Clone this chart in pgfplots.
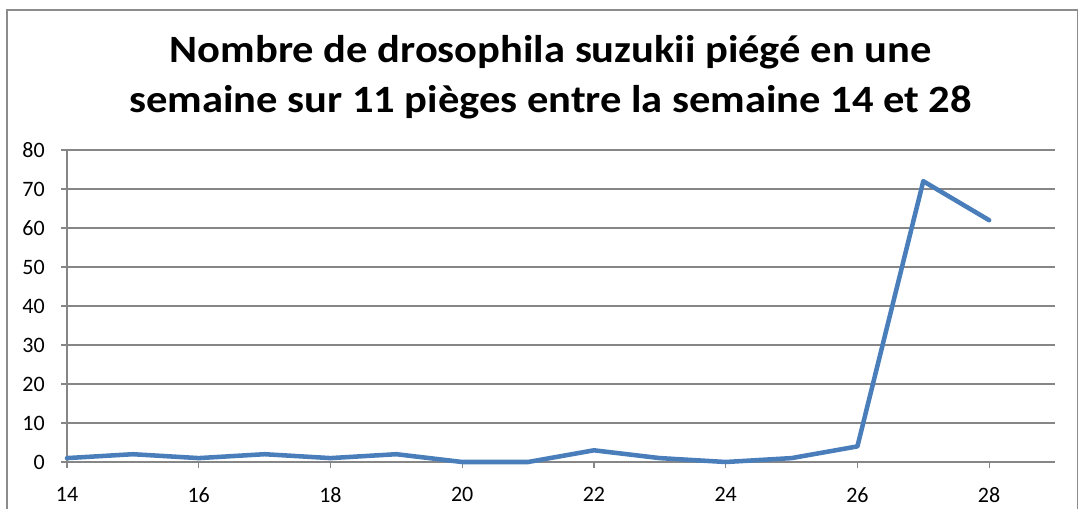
\documentclass[border=0pt]{standalone}
\usepackage{pgfplots}
\pgfplotsset{compat=1.18}
\usepackage{fontspec}
\setmainfont{Carlito}
\newfontfamily\titlefont[FakeStretch=1.1]{Carlito}
\definecolor{serie}{HTML}{4A7EBB}
\definecolor{grille}{HTML}{868686}
\definecolor{cadre}{HTML}{8C8C8C}
\begin{document}
\begin{tikzpicture}
\useasboundingbox (0,0) rectangle (810pt,381pt);
\draw[cadre, line width=0.9pt] (5.25pt,-20pt) -- (5.25pt,373.5pt) -- (808pt,373.5pt) -- (808pt,-20pt);
\node[anchor=base, font=\titlefont\fontsize{29}{34}\selectfont\bfseries] at (413pt,334.1pt) {Nombre de drosophila suzukii piégé en une};
\node[anchor=base, font=\titlefont\fontsize{29}{34}\selectfont\bfseries] at (413pt,297pt) {semaine sur 11 pièges entre la semaine 14 et 28};
\begin{axis}[
  at={(50.25pt,34.5pt)}, anchor=south west,
  scale only axis, width=741pt, height=234pt,
  xmin=14, xmax=29, ymin=0, ymax=80,
  xtick={14,16,...,28}, ytick={0,10,...,80},
  axis x line*=bottom, axis y line*=left,
  axis line style={grille, line width=0.9pt},
  tick style={grille, line width=0.9pt},
  tick align=outside, major tick length=4.5pt,
  ymajorgrids, grid style={grille, line width=0.9pt},
  /pgf/number format/assume math mode=true,
  ticklabel style={font=\fontsize{16.5}{20}\selectfont},
  yticklabel style={inner sep=0pt, xshift=-12pt},
  xticklabel style={inner sep=0pt, yshift=-14.5pt},
  clip=false,
]
\addplot[serie, line width=3.4pt, line join=round, line cap=round] coordinates {
(14,1) (15,2) (16,1) (17,2) (18,1) (19,2) (20,0) (21,0) (22,3) (23,1) (24,0) (25,1) (26,4) (27,72) (28,62)
};
\end{axis}
\end{tikzpicture}
\end{document}
